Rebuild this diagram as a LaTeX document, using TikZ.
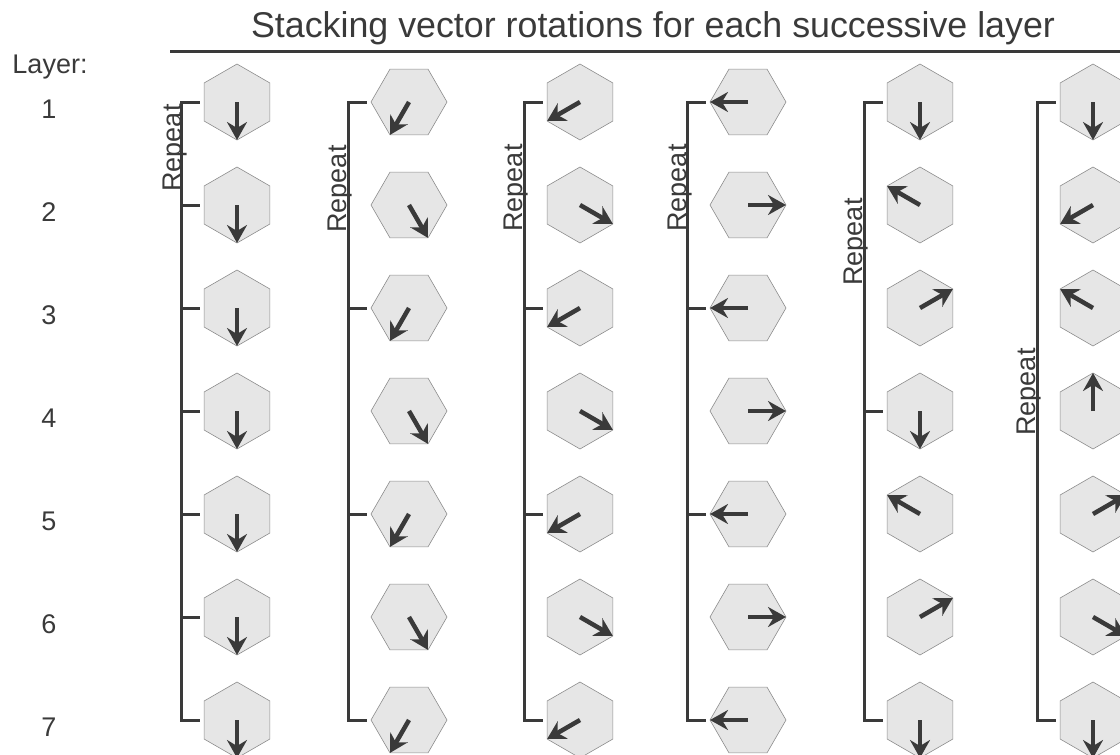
\documentclass[tikz,border=0pt]{standalone}
\usepackage{fontspec}
\setmainfont{Liberation Sans}
\usetikzlibrary{shapes.geometric,arrows.meta}
\definecolor{hexfill}{RGB}{230,230,230}
\definecolor{hexedge}{RGB}{140,140,140}
\definecolor{ink}{RGB}{58,58,58}

\begin{document}
\begin{tikzpicture}[x=1pt,y=1pt,
    flathex/.style={regular polygon, regular polygon sides=6, minimum size=76pt,
      inner sep=0pt, draw=hexedge, fill=hexfill, line width=0.6pt},
    pointyhex/.style={flathex, shape border rotate=30},
    vec/.style={ink, line width=4.5pt, -{Stealth[length=18pt,width=20pt,inset=6pt]}},
    brk/.style={ink, line width=3pt},
    lbl/.style={text=ink, font=\fontsize{27}{30}\selectfont}]
    \useasboundingbox (0,-755) rectangle (1120,0);
    \clip (0,-755) rectangle (1120,0);

    % Title
    \node[text=ink, font=\fontsize{35.8}{40}\selectfont, anchor=base] (title) at (653,-37)
      {Stacking vector rotations for each successive layer};
    \draw[ink, line width=3pt] (170,-51) -- (1120,-51);

    % Layer numbers
    \node[lbl, anchor=base] (layer) at (50,-73) {Layer:};
    \foreach \r in {1,...,7}
      \node[lbl] (num\r) at (49,{-109-103*(\r-1)}) {\r};

    % Column 1
    \foreach \a [count=\r] in {-90,-90,-90,-90,-90,-90,-90} {
      \node[pointyhex] (a\r) at (237,{-102-103*(\r-1)}) {};
      \draw[vec] (a\r.center) -- ++(\a:38);
    }
    \draw[brk] ([xshift=-4pt]a1.west) -- ++(-18,0) |- ([xshift=-4pt]a7.west);
    \foreach \r in {2,...,6}
      \draw[brk] ([xshift=-4pt]a\r.west) -- ++(-18,0);
    \node[lbl, rotate=90, anchor=base] (repa) at (181,-148) {Repeat};

    % Column 2
    \foreach \a [count=\r] in {-120,-60,-120,-60,-120,-60,-120} {
      \node[flathex] (b\r) at (409,{-102-103*(\r-1)}) {};
      \draw[vec] (b\r.center) -- ++(\a:38);
    }
    \draw[brk] ([xshift=-4pt]b1.west) -- ++(-18,0) |- ([xshift=-4pt]b7.west);
    \foreach \r in {3,5}
      \draw[brk] ([xshift=-4pt]b\r.west) -- ++(-18,0);
    \node[lbl, rotate=90, anchor=base] (repb) at (346,-189) {Repeat};

    % Column 3
    \foreach \a [count=\r] in {-150,-30,-150,-30,-150,-30,-150} {
      \node[pointyhex] (c\r) at (580,{-102-103*(\r-1)}) {};
      \draw[vec] (c\r.center) -- ++(\a:38);
    }
    \draw[brk] ([xshift=-4pt]c1.west) -- ++(-18,0) |- ([xshift=-4pt]c7.west);
    \foreach \r in {3,5}
      \draw[brk] ([xshift=-4pt]c\r.west) -- ++(-18,0);
    \node[lbl, rotate=90, anchor=base] (repc) at (522,-188) {Repeat};

    % Column 4
    \foreach \a [count=\r] in {180,0,180,0,180,0,180} {
      \node[flathex] (d\r) at (748,{-102-103*(\r-1)}) {};
      \draw[vec] (d\r.center) -- ++(\a:38);
    }
    \draw[brk] ([xshift=-4pt]d1.west) -- ++(-18,0) |- ([xshift=-4pt]d7.west);
    \foreach \r in {3,5}
      \draw[brk] ([xshift=-4pt]d\r.west) -- ++(-18,0);
    \node[lbl, rotate=90, anchor=base] (repd) at (686,-188) {Repeat};

    % Column 5
    \foreach \a [count=\r] in {-90,150,30,-90,150,30,-90} {
      \node[pointyhex] (e\r) at (920,{-102-103*(\r-1)}) {};
      \draw[vec] (e\r.center) -- ++(\a:38);
    }
    \draw[brk] ([xshift=-4pt]e1.west) -- ++(-18,0) |- ([xshift=-4pt]e7.west);
    \draw[brk] ([xshift=-4pt]e4.west) -- ++(-18,0);
    \node[lbl, rotate=90, anchor=base] (repe) at (862,-242) {Repeat};

    % Column 6
    \foreach \a [count=\r] in {-90,-150,150,90,30,-30,-90} {
      \node[pointyhex] (f\r) at (1093,{-102-103*(\r-1)}) {};
      \draw[vec] (f\r.center) -- ++(\a:38);
    }
    \draw[brk] ([xshift=-4pt]f1.west) -- ++(-18,0) |- ([xshift=-4pt]f7.west);
    \node[lbl, rotate=90, anchor=base] (repf) at (1035,-392) {Repeat};
\end{tikzpicture}
\end{document}
